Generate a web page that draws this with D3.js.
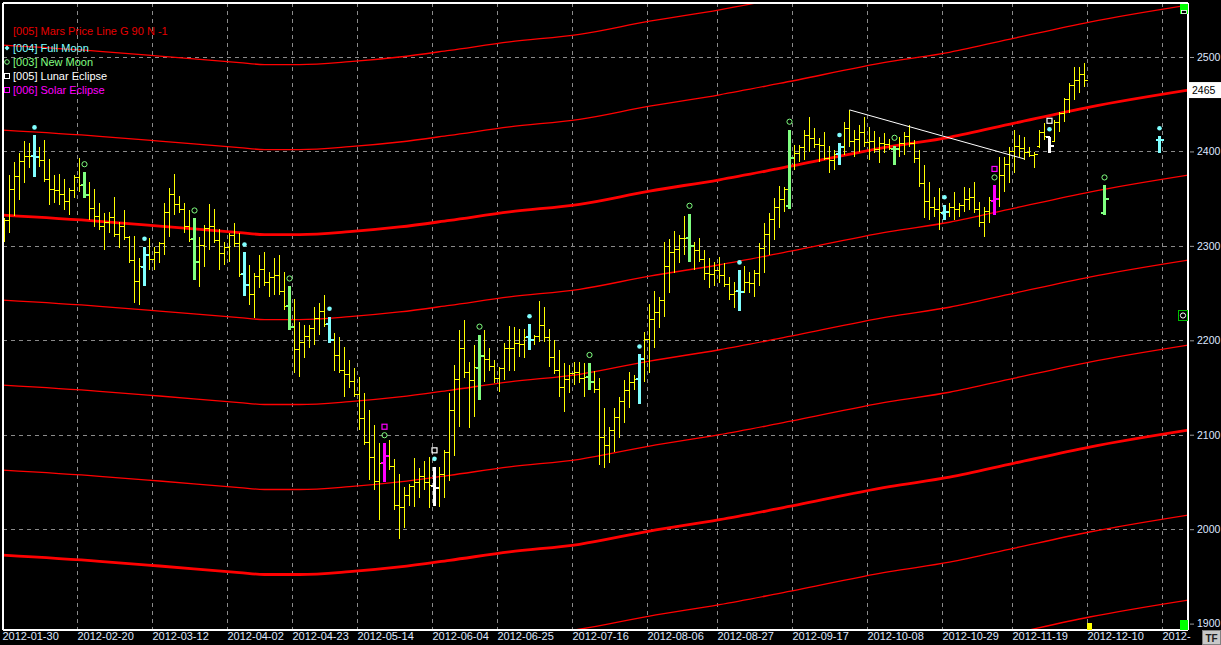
<!DOCTYPE html>
<html><head><meta charset="utf-8">
<script src="https://cdn.jsdelivr.net/npm/d3@7/dist/d3.min.js"></script>
<style>
body{margin:0;background:#000;overflow:hidden}
text{font-family:"Liberation Sans",Arial,sans-serif;font-size:11px}
</style></head>
<body><svg id="chart" width="1221" height="645"></svg>
<script>
// ---------- data (bar index = trading-day slot) ----------
const highs = [2329,2375,2389,2398,2411,2409,2417,2405,2412,2392,
2375,2376,2371,2361,2375,2393,2378,2368,2360,2345,
2335,2336,2352,2325,2338,2310,2310,2287,2299,2308,
2299,2304,2345,2361,2376,2353,2345,2338,2329,2309,
2322,2344,2339,2318,2304,2314,2324,2314,2293,2280,
2271,2290,2293,2272,2287,2290,2272,2257,2244,2219,
2216,2216,2235,2240,2248,2225,2208,2203,2193,2179,
2171,2161,2144,2126,2110,2091,2091,2094,2074,2058,
2045,2048,2075,2065,2072,2076,2066,2066,2084,2144,
2174,2211,2222,2177,2195,2206,2211,2192,2179,2172,
2197,2215,2214,2212,2212,2217,2206,2242,2235,2212,
2200,2190,2176,2174,2177,2177,2176,2176,2168,2160,
2128,2108,2128,2140,2158,2166,2163,2185,2209,2238,
2252,2246,2304,2307,2316,2311,2332,2334,2304,2308,
2296,2287,2283,2288,2282,2267,2262,2274,2279,2272,
2274,2303,2324,2335,2351,2363,2362,2423,2407,2407,
2423,2436,2425,2414,2421,2406,2401,2409,2431,2444,
2423,2428,2436,2426,2422,2415,2419,2413,2406,2415,
2421,2428,2412,2401,2386,2368,2352,2361,2343,2345,
2357,2345,2362,2361,2368,2346,2341,2352,2364,2394,
2394,2405,2423,2417,2415,2405,2399,2423,2430,2415,
2433,2442,2457,2472,2489,2489,2494];
const lows = [2304,2314,2332,2349,2367,2382,2373,2383,2368,2343,
2345,2343,2338,2333,2351,2357,2351,2327,2320,2317,
2296,2314,2309,2298,2306,2282,2239,2237,2258,2274,
2274,2282,2290,2309,2333,2335,2314,2304,2264,2256,
2278,2296,2303,2274,2280,2283,2299,2267,2247,2237,
2224,2255,2258,2246,2248,2248,2232,2211,2165,2161,
2181,2192,2195,2206,2214,2197,2168,2165,2140,2150,
2140,2105,2089,2052,2041,2010,2050,2063,2020,1990,
2001,2025,2023,2033,2041,2022,2025,2023,2033,2051,
2078,2108,2160,2107,2119,2137,2156,2168,2155,2145,
2158,2168,2168,2182,2181,2190,2195,2198,2198,2172,
2164,2140,2124,2144,2153,2155,2140,2147,2144,2068,
2065,2070,2082,2097,2112,2128,2147,2133,2156,2165,
2192,2213,2225,2250,2271,2282,2290,2283,2274,2283,
2264,2255,2257,2261,2256,2243,2234,2231,2251,2250,
2246,2257,2271,2290,2306,2319,2336,2339,2380,2389,
2391,2399,2404,2389,2391,2377,2380,2386,2396,2405,
2394,2399,2405,2391,2398,2388,2398,2401,2386,2394,
2396,2405,2388,2362,2329,2327,2331,2317,2327,2331,
2327,2331,2336,2338,2335,2320,2309,2324,2333,2341,
2357,2367,2377,2394,2391,2394,2382,2404,2412,2398,
2410,2421,2431,2441,2454,2462,2468];
const opens = [2310,2327,2360,2373,2389,2395,2395,2394,2390,2370,
2360,2359,2354,2347,2359,2372,2364,2354,2340,2331,
2320,2325,2330,2312,2321,2309,2285,2262,2278,2290,
2286,2293,2302,2335,2354,2344,2338,2321,2307,2283,
2300,2318,2321,2306,2292,2298,2311,2302,2270,2259,
2248,2268,2275,2261,2267,2269,2252,2236,2214,2190,
2198,2204,2213,2223,2231,2217,2200,2184,2168,2164,
2156,2143,2117,2092,2076,2051,2070,2078,2066,2025,
2023,2036,2045,2049,2056,2049,2046,2044,2058,2081,
2126,2159,2191,2166,2157,2171,2183,2180,2172,2160,
2170,2191,2191,2197,2196,2203,2200,2204,2216,2203,
2182,2168,2150,2159,2165,2166,2160,2161,2156,2148,
2097,2089,2104,2118,2135,2147,2155,2159,2180,2201,
2222,2229,2242,2278,2293,2296,2308,2308,2300,2295,
2286,2271,2270,2274,2269,2259,2248,2252,2251,2261,
2260,2271,2297,2312,2328,2341,2349,2342,2393,2398,
2404,2417,2414,2407,2406,2393,2390,2397,2405,2424,
2410,2413,2420,2409,2410,2402,2408,2407,2403,2403,
2408,2416,2408,2392,2366,2347,2341,2339,2335,2336,
2341,2338,2343,2349,2351,2338,2325,2336,2348,2350,
2375,2386,2400,2405,2403,2399,2396,2405,2420,2415,
2410,2431,2440,2455,2470,2475,2481];
const closes = [2327,2360,2373,2389,2395,2395,2394,2390,2370,2360,
2359,2354,2347,2359,2372,2364,2354,2340,2331,2320,
2325,2330,2312,2321,2309,2285,2262,2278,2290,2286,
2293,2302,2335,2354,2344,2338,2321,2307,2283,2300,
2318,2321,2306,2292,2298,2311,2302,2270,2259,2248,
2268,2275,2261,2267,2269,2252,2236,2214,2190,2198,
2204,2213,2223,2231,2217,2200,2184,2168,2164,2156,
2143,2117,2092,2076,2051,2070,2078,2066,2025,2023,
2036,2045,2049,2056,2049,2046,2044,2058,2081,2126,
2159,2191,2166,2157,2171,2183,2180,2172,2160,2170,
2191,2191,2197,2196,2203,2200,2204,2216,2203,2182,
2168,2150,2159,2165,2166,2160,2161,2156,2148,2097,
2089,2104,2118,2135,2147,2155,2159,2180,2201,2222,
2229,2242,2278,2293,2296,2308,2308,2300,2295,2286,
2271,2270,2274,2269,2259,2248,2252,2251,2261,2260,
2271,2297,2312,2328,2341,2349,2360,2393,2398,2404,
2417,2414,2407,2406,2393,2390,2397,2405,2424,2410,
2413,2420,2409,2410,2402,2408,2407,2403,2403,2408,
2416,2408,2392,2366,2347,2341,2339,2335,2336,2341,
2338,2343,2349,2351,2338,2325,2336,2348,2350,2375,
2386,2400,2405,2403,2399,2396,2397,2420,2416,2406,
2431,2440,2455,2470,2475,2481,2475];

// moon / eclipse event bars
const fullMoonBars = [6,28,48,65,86,105,127,147,167,188,209,231];
const newMoonBars = [16,38,57,76,95,117,137,157,178,198,220];
const lunarEclipseBars = [86,209];
const solarEclipseBars = [76,198];
// projected event bars beyond the last price bar
const projBars = [220,231];
const projHigh = [2364,2416];
const projLow = [2333,2398];
const projOpen = [2335,2412];
const projClose = [2350,2412];

// x-axis ticks (bar index of the labelled day); the last label is cut short in the original
const tickBars = [0,15,30,45,58,71,86,99,114,129,143,158,173,188,202,217,232];
const tickLabels = ["2012-01-30","2012-02-20","2012-03-12","2012-04-02","2012-04-23","2012-05-14",
"2012-06-04","2012-06-25","2012-07-16","2012-08-06","2012-08-27","2012-09-17","2012-10-08",
"2012-10-29","2012-11-19","2012-12-10","2012-"];
const priceTicks = [2500,2400,2300,2200,2100,2000,1900];
const gridPrices = [2500,2400,2300,2200,2100,2000];

// Mars price line (G 90) base values and harmonic offsets
const marsBars = [-2,19,31,47,52,59,69,79,89,101,115,129,143,155,177,189,202,217,238];
const marsBase = [2333,2326,2321,2314,2312,2312,2315,2320,2327,2336,2344,2358,2370,2382,2405,2415,2430,2447,2466];
const marsOffsets = [-540,-450,-360,-270,-180,-90,0,90,180];
const marsLast = 2465;

// hand-drawn trend line
const trendBars = [169,204];
const trendPrices = [2444,2392];

// ---------- drawing ----------
const svg = d3.select("#chart");
const W = 1221, H = 645;
const L = 3, R = 1188, T = 3, B = 630;
const FONT = "'Liberation Sans',Arial,sans-serif";

svg.append("rect").attr("width",W).attr("height",H).attr("fill","#000");

const x = d3.scaleLinear().domain([0,236]).range([4.5,1184.5]);
const y = d3.scaleLinear().domain([1900,2500]).range([623.6,57]);

const defs = svg.append("defs");
defs.append("clipPath").attr("id","plot").append("rect").attr("x",L).attr("y",T).attr("width",R-L).attr("height",B-T);

const plot = svg.append("g").attr("clip-path","url(#plot)");

// grid
plot.append("g").selectAll("line").data(tickBars).join("line")
  .attr("x1",d=>Math.round(x(d-0.5))+0.5).attr("x2",d=>Math.round(x(d-0.5))+0.5)
  .attr("y1",T).attr("y2",B)
  .attr("stroke","#8a8a8a").attr("stroke-width",1).attr("stroke-dasharray","4,4");
plot.append("g").selectAll("line").data(gridPrices).join("line")
  .attr("x1",L).attr("x2",R)
  .attr("y1",d=>Math.round(y(d))+0.5).attr("y2",d=>Math.round(y(d))+0.5)
  .attr("stroke","#8a8a8a").attr("stroke-width",1).attr("stroke-dasharray","4,4");

// Mars price lines
const marsLine = d3.line().x(d=>x(d[0])).y(d=>y(d[1])).curve(d3.curveMonotoneX);
plot.append("g").selectAll("path").data(marsOffsets).join("path")
  .attr("d",o=>marsLine(marsBars.map((b,i)=>[b,marsBase[i]+o])))
  .attr("fill","none").attr("stroke","#ff0000")
  .attr("stroke-width",o=>(o%360===0)?2.8:1.3);

// OHLC bars
const bars = d3.range(highs.length).map(i=>({i,h:highs[i],l:lows[i],o:opens[i],c:closes[i]}));
projBars.forEach((b,k)=>bars.push({i:b,h:projHigh[k],l:projLow[k],o:projOpen[k],c:projClose[k]}));

function barColor(i){
  if (solarEclipseBars.includes(i)) return "#ff00ff";
  if (lunarEclipseBars.includes(i)) return "#ffffff";
  if (newMoonBars.includes(i)) return "#80ff80";
  if (fullMoonBars.includes(i)) return "#80ffff";
  return null;
}
const normal = bars.filter(d=>!barColor(d.i));
const special = bars.filter(d=>barColor(d.i));

const gN = plot.append("g").attr("stroke","#ffff00").attr("stroke-width",1).attr("shape-rendering","crispEdges");
gN.selectAll("line.v").data(normal).join("line").attr("class","v")
  .attr("x1",d=>x(d.i)).attr("x2",d=>x(d.i)).attr("y1",d=>y(d.h)).attr("y2",d=>y(d.l));
gN.selectAll("line.o").data(normal).join("line").attr("class","o")
  .attr("x1",d=>x(d.i)-3).attr("x2",d=>x(d.i)).attr("y1",d=>y(d.o)).attr("y2",d=>y(d.o));
gN.selectAll("line.c").data(normal).join("line").attr("class","c")
  .attr("x1",d=>x(d.i)).attr("x2",d=>x(d.i)+3).attr("y1",d=>y(d.c)).attr("y2",d=>y(d.c));

const gS = plot.append("g").attr("shape-rendering","crispEdges");
gS.selectAll("rect.v").data(special).join("rect").attr("class","v")
  .attr("x",d=>x(d.i)-1.5).attr("width",3)
  .attr("y",d=>y(d.h)).attr("height",d=>y(d.l)-y(d.h)).attr("fill",d=>barColor(d.i));
gS.selectAll("rect.o").data(special).join("rect").attr("class","o")
  .attr("x",d=>x(d.i)-4).attr("width",4)
  .attr("y",d=>y(d.o)-1).attr("height",2).attr("fill",d=>barColor(d.i));
gS.selectAll("rect.c").data(special).join("rect").attr("class","c")
  .attr("x",d=>x(d.i)).attr("width",4)
  .attr("y",d=>y(d.c)-1).attr("height",2).attr("fill",d=>barColor(d.i));

// event markers above bars
const hiOf = i => { const b = bars.find(d=>d.i===i); return y(b.h); };
const gM = plot.append("g");
fullMoonBars.forEach(i=>{
  gM.append("circle").attr("cx",x(i)).attr("cy",hiOf(i)-8).attr("r",2.3).attr("fill","#80ffff");
});
newMoonBars.forEach(i=>{
  gM.append("circle").attr("cx",x(i)).attr("cy",hiOf(i)-8).attr("r",2.6)
    .attr("fill","none").attr("stroke","#80ff80").attr("stroke-width",1);
});
lunarEclipseBars.forEach(i=>{
  gM.append("rect").attr("x",x(i)-2.5).attr("y",hiOf(i)-19).attr("width",5).attr("height",5)
    .attr("fill","none").attr("stroke","#ffffff").attr("stroke-width",1.2);
});
solarEclipseBars.forEach(i=>{
  gM.append("rect").attr("x",x(i)-2.5).attr("y",hiOf(i)-19).attr("width",5).attr("height",5)
    .attr("fill","none").attr("stroke","#ff00ff").attr("stroke-width",1.2);
});

// trend line
plot.append("line")
  .attr("x1",x(trendBars[0])).attr("y1",y(trendPrices[0]))
  .attr("x2",x(trendBars[1])).attr("y2",y(trendPrices[1]))
  .attr("stroke","#ffffff").attr("stroke-width",1);

// frame
const fr = svg.append("g").attr("stroke","#ffffff").attr("stroke-width",1.2).attr("shape-rendering","crispEdges");
fr.append("line").attr("x1",L).attr("x2",L).attr("y1",T).attr("y2",B);
fr.append("line").attr("x1",L).attr("x2",R).attr("y1",T).attr("y2",T);
fr.append("line").attr("x1",R).attr("x2",R).attr("y1",T).attr("y2",B);
fr.append("line").attr("x1",L).attr("x2",R).attr("y1",B).attr("y2",B);

// y axis (right)
const yAxis = d3.axisRight(y).tickValues(priceTicks).tickSize(4).tickPadding(3).tickFormat(d3.format("d"));
const gy = svg.append("g").attr("transform",`translate(${R+2},0)`).call(yAxis);
gy.select(".domain").remove();
gy.selectAll(".tick line").attr("stroke","#9a9a9a");
gy.selectAll(".tick text").attr("fill","#dfe7ff").style("font-size","10.5px").style("font-family",FONT);

// x axis (bottom), labels left-aligned at grid lines
const xAxis = d3.axisBottom(x).tickValues(tickBars.map(t=>t-0.5)).tickSize(0).tickPadding(0)
  .tickFormat((d,k)=>tickLabels[k]);
const gx = svg.append("g").attr("transform",`translate(0,${B})`).call(xAxis);
gx.select(".domain").remove();
gx.selectAll(".tick text").attr("text-anchor","start").attr("dx","0").attr("dy","0").attr("y",10)
  .attr("fill","#dfe7ff").style("font-size","11px").style("font-family",FONT);

// last value label
svg.append("rect").attr("x",R+1).attr("y",y(marsLast)-8).attr("width",W-R-1).attr("height",16).attr("fill","#ffffff");
svg.append("text").attr("x",R+4).attr("y",y(marsLast)+4).attr("fill","#000").style("font-size","10.5px").text(marsLast);

// legend
const lg = svg.append("g");
lg.append("text").attr("x",13).attr("y",35).attr("fill","#e60000").text("[005] Mars Price Line G 90 N -1");
const legendItems = [
  {t:"[004] Full Moon", c:"#80ffff", m:"dot"},
  {t:"[003] New Moon", c:"#80ff80", m:"circle"},
  {t:"[005] Lunar Eclipse", c:"#ffffff", m:"square"},
  {t:"[006] Solar Eclipse", c:"#ff00ff", m:"square"}
];
legendItems.forEach((d,k)=>{
  const cy = 48 + k*14;
  if (d.m==="dot") lg.append("path").attr("d",`M7,${cy-2.5}L9.5,${cy}L7,${cy+2.5}L4.5,${cy}Z`).attr("fill",d.c);
  else if (d.m==="circle") lg.append("circle").attr("cx",7).attr("cy",cy).attr("r",2.3).attr("fill","none").attr("stroke",d.c);
  else lg.append("rect").attr("x",4.5).attr("y",cy-2.5).attr("width",5).attr("height",5).attr("fill","none").attr("stroke",d.c);
  lg.append("text").attr("x",13).attr("y",cy+4).attr("fill",d.c).text(d.t);
});

// chart widgets
svg.append("rect").attr("x",1180).attr("y",4).attr("width",8).attr("height",10).attr("fill","#00ff00");
svg.append("rect").attr("x",1181.5).attr("y",10.5).attr("width",5).attr("height",3).attr("fill","#000").attr("stroke","#fff").attr("stroke-width",0.8);
svg.append("rect").attr("x",1180).attr("y",620).attr("width",8).attr("height",10).attr("fill","#00ff00");
svg.append("rect").attr("x",x(217)-2.5).attr("y",623).attr("width",5).attr("height",7).attr("fill","#ffff00");
svg.append("rect").attr("x",1178.5).attr("y",310.5).attr("width",9).attr("height",10).attr("fill","#000").attr("stroke","#00c000");
svg.append("circle").attr("cx",1183).attr("cy",315.5).attr("r",2.6).attr("fill","none").attr("stroke","#fff");
svg.append("rect").attr("x",1202.5).attr("y",630.5).attr("width",18).attr("height",14).attr("fill","#c8c8c8").attr("stroke","#808080");
svg.append("text").attr("x",1205.5).attr("y",642).attr("fill","#202020").style("font-size","10px").style("font-weight","bold").text("TF");
</script></body></html>
